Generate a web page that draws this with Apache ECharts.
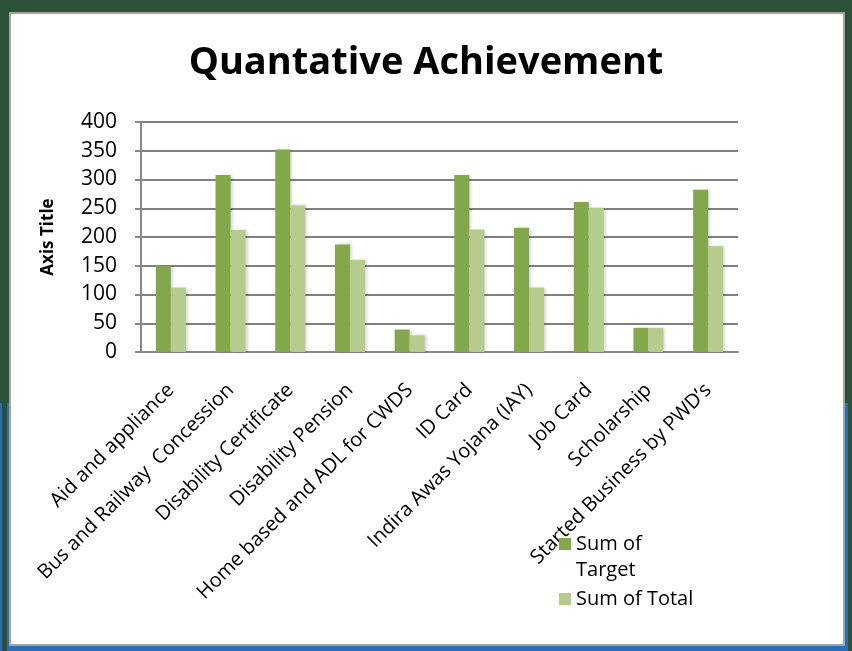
<!DOCTYPE html>
<html lang="en">
<head>
<meta charset="UTF-8">
<title>Quantative Achievement</title>
<script src="https://cdn.jsdelivr.net/npm/echarts@6/dist/echarts.min.js"></script>
<style>
  html, body { margin: 0; padding: 0; }
  body { width: 852px; height: 651px; position: relative; overflow: hidden; background: #2b5237; }
  .blue { position: absolute; left: 0; top: 403px; width: 852px; height: 248px; background: #2f6db3; }
  .strip { position: absolute; background: #2b5237; }
  .panel { position: absolute; left: 9px; top: 12px; width: 832px; height: 630px; background: #fff; border: 2px solid #a3a3a3; }
  #chart { position: absolute; left: 0; top: 0; width: 852px; height: 651px; }
</style>
</head>
<body>
  <div class="blue"></div>
  <div class="strip" style="left:2px;top:403px;width:5px;height:248px;"></div>
  <div class="strip" style="left:848px;top:403px;width:4px;height:248px;"></div>
  <div class="panel"></div>
  <div id="chart"></div>
<script>
// categories and values
var categories = [
  'Aid and appliance',
  'Bus and Railway  Concession',
  'Disability Certificate',
  'Disability Pension',
  'Home based and ADL for CWDS',
  'ID Card',
  'Indira Awas Yojana (IAY)',
  'Job Card',
  'Scholarship',
  'Started Business by PWD\u2019s'
];
var targetVals = [150, 308, 352, 187, 39, 308, 216, 261, 42, 282];
var totalVals  = [112, 212, 255, 160, 29, 213, 112, 251, 42, 184];
var yTicks = [0, 400, 50];   // min, max, interval

var chart = echarts.init(document.getElementById('chart'));
var font = '"Open Sans", Lato, sans-serif';

var option = {
  animation: false,
  textStyle: { fontFamily: font },
  title: {
    text: 'Quantative Achievement',
    left: 'center',
    top: 39,
    textStyle: { fontFamily: font, fontSize: 38, fontWeight: 'bold', color: '#000' }
  },
  legend: {
    orient: 'vertical',
    left: 554,
    top: 500,
    itemWidth: 12,
    itemHeight: 12,
    itemGap: 3,
    icon: 'rect',
    textStyle: { fontFamily: font, fontSize: 20, color: '#000', lineHeight: 26 },
    formatter: function (name) {
      // put the icon next to the first line, like the original
      return name === 'Sum of Target' ? '\nSum of\nTarget' : name;
    },
    data: ['Sum of Target', 'Sum of Total']
  },
  grid: { left: 141, right: 114, top: 122, bottom: 299, containLabel: false },
  xAxis: {
    type: 'category',
    data: categories,
    axisLine: { lineStyle: { color: '#888', width: 2 } },
    axisTick: { show: false },
    axisLabel: {
      interval: 0,
      rotate: 45,
      margin: 35,
      fontFamily: font,
      fontSize: 20,
      color: '#000'
    }
  },
  yAxis: {
    type: 'value',
    min: yTicks[0],
    max: yTicks[1],
    interval: yTicks[2],
    name: 'Axis Title',
    nameLocation: 'middle',
    nameGap: 84,
    nameRotate: 90,
    nameTextStyle: { fontFamily: font, fontSize: 17, fontWeight: 'bold', color: '#000' },
    axisLine: { show: true, lineStyle: { color: '#888', width: 2 } },
    axisTick: { show: true, inside: false, length: 6, lineStyle: { color: '#888', width: 2 } },
    axisLabel: { margin: 24, fontFamily: font, fontSize: 21, color: '#000' },
    splitLine: { lineStyle: { color: '#808080', width: 2 } }
  },
  series: [
    {
      name: 'Sum of Target',
      type: 'bar',
      data: targetVals,
      barWidth: 15,
      barGap: '0%',
      itemStyle: {
        color: '#83a74b',
        shadowColor: 'rgba(0,0,0,0.18)',
        shadowBlur: 3,
        shadowOffsetX: 2
      }
    },
    {
      name: 'Sum of Total',
      type: 'bar',
      data: totalVals,
      barWidth: 15,
      itemStyle: {
        color: '#b5cc8e',
        shadowColor: 'rgba(0,0,0,0.18)',
        shadowBlur: 3,
        shadowOffsetX: 2
      }
    }
  ]
};
chart.setOption(option);
</script>
</body>
</html>
